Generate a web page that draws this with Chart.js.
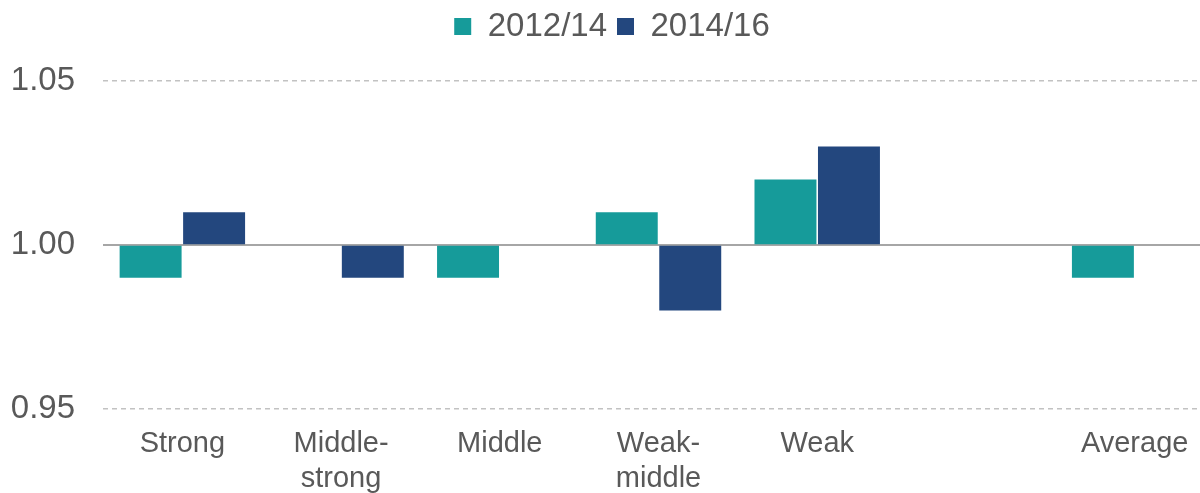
<!DOCTYPE html>
<html>
<head>
<meta charset="utf-8">
<script src="https://cdn.jsdelivr.net/npm/chart.js@4/dist/chart.umd.min.js"></script>
<style>
  html, body { margin: 0; padding: 0; background: #ffffff; overflow: hidden; }
  #wrap { width: 1247px; height: 493px; position: relative; }
</style>
</head>
<body>
<div id="wrap"><canvas id="c"></canvas></div>
<script>
const categories = [["Strong"], ["Middle-", "strong"], ["Middle"], ["Weak-", "middle"], ["Weak"], [""], ["Average"]];
const series2012_14 = [0.99, 1.00, 0.99, 1.01, 1.02, null, 0.99];
const series2014_16 = [1.01, 0.99, 1.00, 0.98, 1.03, null, 1.00];
const seriesNames = ["2012/14", "2014/16"];
const yTicks = [0.95, 1.00, 1.05];
const baseline = 1.00;

const teal = "#169B9A";
const navy = "#23477E";
const textColor = "#595959";
const fontFamily = "'Liberation Sans', Arial, sans-serif";

new Chart(document.getElementById("c"), {
  type: "bar",
  data: {
    labels: categories,
    datasets: [
      { label: seriesNames[0], data: series2012_14, backgroundColor: teal, base: baseline,
        categoryPercentage: 0.8, barPercentage: 0.976, borderWidth: 0 },
      { label: seriesNames[1], data: series2014_16, backgroundColor: navy, base: baseline,
        categoryPercentage: 0.8, barPercentage: 0.976, borderWidth: 0 }
    ]
  },
  options: {
    responsive: true,
    maintainAspectRatio: false,
    animation: false,
    layout: { padding: { left: 10, right: 33, top: 0, bottom: 0 } },
    plugins: {
      tooltip: { enabled: false },
      legend: {
        position: "top",
        labels: {
          boxWidth: 17, boxHeight: 17, padding: 10,
          color: textColor,
          font: { family: fontFamily, size: 33, lineHeight: 1.0 }
        }
      }
    },
    scales: {
      xTop: {
        type: "category",
        position: "top",
        grid: { display: false, drawTicks: false },
        border: { display: false },
        ticks: { display: false },
        afterFit: (axis) => { axis.height = 28; }
      },
      x: {
        grid: { display: false, drawTicks: false },
        border: { display: false },
        afterFit: (axis) => { axis.height = 84; },
        ticks: {
          color: textColor, padding: 18, maxRotation: 0, autoSkip: false,
          font: { family: fontFamily, size: 29, lineHeight: 1.2 }
        }
      },
      y: {
        min: 0.95, max: 1.05,
        afterBuildTicks: (axis) => { axis.ticks = yTicks.map(v => ({ value: v })); },
        afterFit: (axis) => { axis.width = 93; },
        grid: {
          drawTicks: false, lineWidth: 1.5,
          color: (ctx) => (ctx.tick && ctx.tick.value === baseline) ? "rgba(0,0,0,0)" : "#c2c2c2"
        },
        border: { display: false, dash: [5, 4] },
        ticks: {
          color: textColor, padding: 28,
          font: { family: fontFamily, size: 33 },
          callback: (v) => Number(v).toFixed(2)
        }
      },
      y2: {
        position: "right",
        min: 0.95, max: 1.05,
        afterBuildTicks: (axis) => { axis.ticks = yTicks.map(v => ({ value: v })); },
        afterFit: (axis) => { axis.width = 0; },
        grid: {
          drawTicks: false, lineWidth: 2,
          color: (ctx) => (ctx.tick && ctx.tick.value === baseline) ? "#a6a6a6" : "rgba(0,0,0,0)"
        },
        border: { display: false },
        ticks: { display: false }
      }
    }
  }
});
</script>
</body>
</html>
